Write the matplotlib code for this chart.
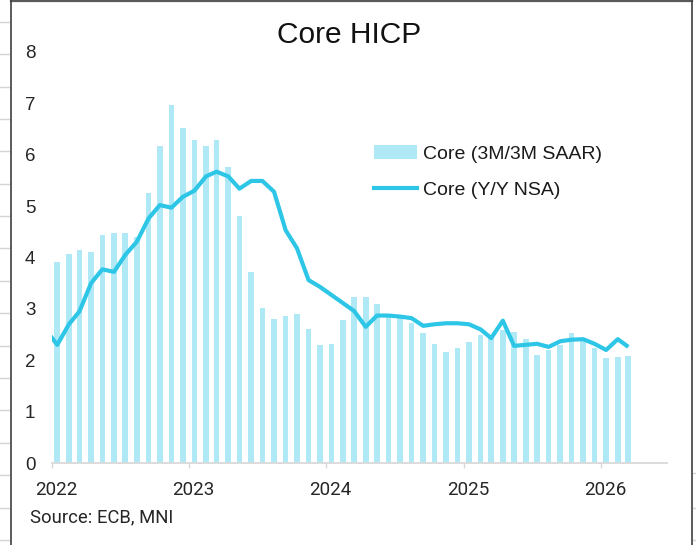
import matplotlib
matplotlib.use("Agg")
import matplotlib.pyplot as plt
import matplotlib.dates as mdates
from matplotlib.lines import Line2D
from matplotlib.patches import Patch
from matplotlib.transforms import ScaledTranslation
import numpy as np
import pandas as pd

# Core HICP, 3M/3M SAAR, Jan 2022 - Mar 2026
core_saar = [
    3.92, 4.07, 4.14, 4.10, 4.43, 4.47, 4.48, 4.40, 5.26, 6.17, 6.96, 6.52,
    6.28, 6.17, 6.28, 5.76, 4.80, 3.72, 3.02, 2.80, 2.86, 2.90, 2.61, 2.30,
    2.32, 2.78, 3.23, 3.23, 3.10, 2.88, 2.85, 2.73, 2.54, 2.32, 2.17, 2.23,
    2.36, 2.49, 2.44, 2.59, 2.55, 2.42, 2.10, 2.19, 2.30, 2.54, 2.39, 2.23,
    2.04, 2.06, 2.08,
]
# Core HICP, Y/Y NSA, Dec 2021 - Mar 2026
core_yy = [
    2.60,
    2.30, 2.70, 2.95, 3.50, 3.77, 3.72, 4.05, 4.31, 4.76, 5.02, 4.97, 5.18,
    5.30, 5.58, 5.67, 5.58, 5.34, 5.49, 5.49, 5.28, 4.53, 4.18, 3.56, 3.43,
    3.27, 3.11, 2.96, 2.65, 2.87, 2.87, 2.85, 2.82, 2.67, 2.70, 2.72, 2.72,
    2.70, 2.60, 2.43, 2.77, 2.28, 2.30, 2.32, 2.26, 2.37, 2.40, 2.41, 2.32,
    2.20, 2.41, 2.26,
]
saar_dates = pd.date_range("2022-01-01", periods=len(core_saar), freq="MS") + pd.Timedelta(days=14)
yy_dates = pd.date_range("2021-12-01", periods=len(core_yy), freq="MS") + pd.Timedelta(days=14)
years = [2022, 2023, 2024, 2025, 2026]

BAR_COL = "#b0e9f6"
LINE_COL = "#2ec6e6"
W, H = 696, 545

fig = plt.figure(figsize=(W / 100, H / 100), dpi=100)
ax = fig.add_axes([52 / W, 1 - 463 / H, (667 - 52) / W, (463 - 52) / H])

ax.bar(saar_dates, core_saar, width=15, color=BAR_COL, zorder=2)
ax.plot(yy_dates, core_yy, color=LINE_COL, lw=3.0, zorder=3, solid_capstyle="butt")

ax.set_ylim(0, 8)
ax.set_xlim(pd.Timestamp("2022-01-01"), pd.Timestamp("2026-06-26"))
ax.set_yticks(range(0, 9))
ax.set_xticks([pd.Timestamp(f"{y}-01-01") for y in years])
ax.xaxis.set_major_formatter(mdates.DateFormatter("%Y"))

for s in ["top", "right", "left"]:
    ax.spines[s].set_visible(False)
ax.spines["bottom"].set_color("#d9d9d9")
ax.spines["bottom"].set_linewidth(1.3)

ax.tick_params(axis="y", length=0, pad=12, labelsize=13.5, labelcolor="#262626")
ax.tick_params(axis="x", length=3.3, width=1.0, color="#d9d9d9", pad=10,
               labelsize=13.5, labelcolor="#262626")
for lab in ax.get_yticklabels():
    lab.set_fontfamily("Liberation Sans")
for lab in ax.get_xticklabels():
    lab.set_fontfamily(["Roboto", "DejaVu Sans"])
    lab.set_transform(lab.get_transform() + ScaledTranslation(4 / 100, 0, fig.dpi_scale_trans))

handles = [
    Patch(facecolor=BAR_COL, edgecolor="none", label="Core (3M/3M SAAR)"),
    Line2D([], [], color=LINE_COL, lw=3.0, label="Core (Y/Y NSA)"),
]
ax.legend(handles=handles, loc="upper left", bbox_to_anchor=(374 / W, 1 - 145 / H),
          bbox_transform=fig.transFigure, frameon=False, borderpad=0, borderaxespad=0,
          handlelength=2.2, handletextpad=0.3, labelspacing=0.95,
          prop={"family": "Liberation Sans", "size": 14}, labelcolor="#1a1a1a")

fig.text(349.5 / W, 1 - 35 / H, "Core HICP", ha="center", va="center",
         family="Liberation Sans", fontsize=21.5, color="#111111")
fig.text(30 / W, 1 - 517 / H, "Source: ECB, MNI", ha="left", va="center",
         family=["Roboto", "DejaVu Sans"], fontsize=13.3, color="#262626")

# spreadsheet frame and gridlines around the chart
for yy in np.arange(21.7, H, 32.4):
    fig.add_artist(Line2D([0, 10 / W], [1 - yy / H] * 2, transform=fig.transFigure,
                          color="#d4d4d4", lw=1))
for yy in [473, 508, 540]:
    fig.add_artist(Line2D([693 / W, 1], [1 - yy / H] * 2, transform=fig.transFigure,
                          color="#d4d4d4", lw=1))
fig.add_artist(Line2D([10.5 / W, 692 / W], [1 - 1 / H] * 2, transform=fig.transFigure,
                      color="#595959", lw=1.6))
fig.add_artist(Line2D([10.5 / W] * 2, [0, 1], transform=fig.transFigure,
                      color="#404040", lw=1.2))
fig.add_artist(Line2D([692 / W] * 2, [0, 1], transform=fig.transFigure,
                      color="#404040", lw=1.2))

fig.savefig("out.png", dpi=100)
